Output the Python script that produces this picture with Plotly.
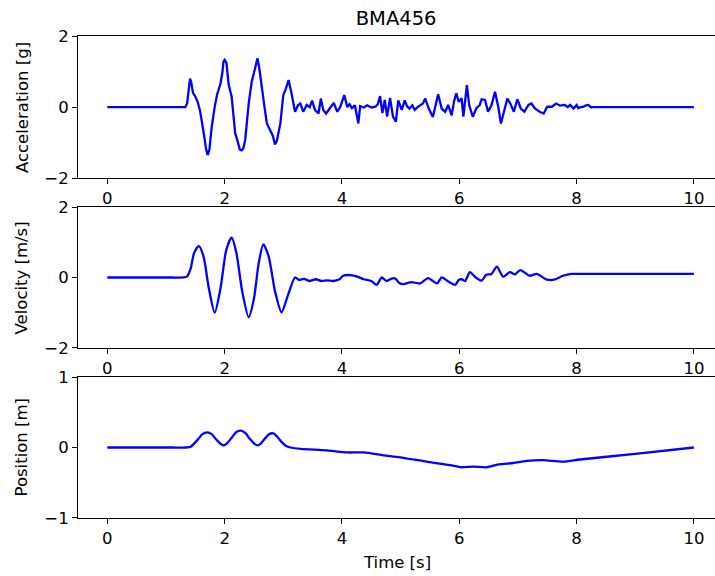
import plotly.graph_objects as go
from plotly.subplots import make_subplots

# acceleration [g]
t_acc = [0, 1.33, 1.36, 1.39, 1.41, 1.43, 1.46, 1.5, 1.54, 1.58, 1.62, 1.65, 1.68, 1.71, 1.74,
         1.78, 1.83, 1.87, 1.93, 1.96, 1.98, 2.0, 2.03, 2.07, 2.12, 2.15, 2.18, 2.22, 2.26,
         2.29, 2.32, 2.35, 2.38, 2.41, 2.46, 2.5, 2.53, 2.56, 2.59, 2.63, 2.68, 2.72, 2.78,
         2.82, 2.86, 2.89, 2.95, 3.0, 3.04, 3.09, 3.14, 3.2, 3.25, 3.29, 3.34, 3.4, 3.45,
         3.49, 3.54, 3.6, 3.64, 3.68, 3.73, 3.78, 3.82, 3.86, 3.92, 3.97, 4.04, 4.09, 4.13,
         4.17, 4.22, 4.28, 4.31, 4.37, 4.43, 4.5, 4.57, 4.61, 4.65, 4.69, 4.73, 4.77, 4.82,
         4.87, 4.92, 4.96, 5.02, 5.07, 5.11, 5.15, 5.2, 5.24, 5.29, 5.33, 5.38, 5.42, 5.48,
         5.55, 5.6, 5.64, 5.7, 5.76, 5.81, 5.87, 5.91, 5.95, 5.99, 6.04, 6.07, 6.13, 6.17,
         6.23, 6.29, 6.35, 6.38, 6.44, 6.49, 6.55, 6.61, 6.67, 6.71, 6.76, 6.82, 6.87, 6.93,
         6.99, 7.05, 7.11, 7.18, 7.23, 7.29, 7.37, 7.44, 7.5, 7.58, 7.65, 7.72, 7.8, 7.85,
         7.89, 7.95, 8.0, 8.03, 8.06, 8.12, 8.16, 8.2, 8.25, 8.28, 10]
acc = [0, 0, 0.1, 0.55, 0.8, 0.7, 0.4, 0.3, 0.15, -0.1, -0.45, -0.8, -1.15, -1.35, -1.2,
       -0.55, 0.0, 0.34, 0.67, 0.95, 1.28, 1.33, 1.25, 0.62, 0.29, -0.2, -0.74, -0.95, -1.2,
       -1.22, -1.15, -0.93, -0.4, 0.1, 0.7, 0.95, 1.2, 1.37, 1.1, 0.67, 0.0, -0.46, -0.65,
       -0.8, -1.05, -0.95, -0.46, 0.34, 0.5, 0.76, 0.39, -0.13, 0.05, 0.1, -0.13, 0.06, 0.0,
       0.18, -0.08, -0.18, 0.24, -0.08, -0.18, -0.05, 0.05, 0.12, -0.13, 0.0, 0.34, 0.0, 0.08,
       -0.03, 0.05, -0.46, 0.03, -0.01, 0.05, -0.01, 0.01, 0.08, 0.31, -0.17, 0.2, -0.27, 0.26,
       -0.27, -0.41, 0.19, -0.08, 0.19, 0.02, -0.04, 0.05, -0.08, 0.0, 0.05, 0.1, 0.24, -0.04,
       -0.28, 0.1, 0.36, -0.04, -0.13, 0.06, -0.23, 0.15, 0.39, 0.15, 0.25, -0.27, 0.62, 0.05,
       -0.27, -0.04, 0.06, 0.22, 0.2, -0.13, 0.06, 0.43, -0.04, -0.46, -0.13, 0.24, 0.1, -0.13,
       0.22, -0.04, -0.13, 0.06, 0.1, -0.04, -0.13, -0.18, 0.01, 0.01, 0.1, 0.04, 0.06, 0.0,
       0.06, -0.04, 0.06, -0.03, -0.01, 0.01, 0.05, 0.06, -0.01, 0.0, 0.0]

# velocity [m/s]
t_vel = [0, 0.6, 1.1, 1.3, 1.36, 1.42, 1.48, 1.56, 1.64, 1.73, 1.83, 1.93, 2.03, 2.12, 2.2,
         2.3, 2.41, 2.5, 2.58, 2.66, 2.75, 2.86, 2.97, 3.08, 3.2, 3.27, 3.35, 3.45, 3.55,
         3.65, 3.75, 3.85, 3.95, 4.02, 4.11, 4.25, 4.37, 4.5, 4.59, 4.68, 4.76, 4.85, 4.91,
         4.97, 5.05, 5.18, 5.33, 5.47, 5.62, 5.7, 5.8, 5.93, 5.99, 6.04, 6.1, 6.18, 6.28,
         6.38, 6.46, 6.55, 6.64, 6.75, 6.86, 6.95, 7.04, 7.2, 7.32, 7.49, 7.62, 7.77, 7.91,
         8.2, 9.0, 10]
vel = [0, 0, 0, 0, 0.03, 0.25, 0.7, 0.89, 0.6, -0.3, -1.0, -0.3, 0.8, 1.13, 0.7,
       -0.4, -1.13, -0.6, 0.4, 0.94, 0.6, -0.4, -0.99, -0.5, 0.0, -0.07, -0.04, -0.1, -0.05,
       -0.1, -0.08, -0.1, -0.06, 0.05, 0.07, 0.03, -0.05, -0.1, -0.21, 0.0, -0.1, -0.03, -0.03,
       -0.15, -0.19, -0.13, -0.17, -0.02, -0.17, 0.0, -0.1, -0.21, -0.07, -0.05, -0.1, 0.15,
       0.0, -0.09, 0.08, 0.1, 0.31, 0.02, 0.15, 0.09, 0.21, 0.05, 0.1, -0.06, -0.06, 0.05,
       0.1, 0.1, 0.1, 0.1]

# position [m]
t_pos = [0, 0.6, 1.1, 1.35, 1.42, 1.55, 1.62, 1.7, 1.78, 1.85, 1.92, 1.98, 2.04, 2.13, 2.2,
         2.28, 2.36, 2.42, 2.5, 2.56, 2.62, 2.7, 2.76, 2.83, 2.9, 2.97, 3.05, 3.12, 3.3, 3.74,
         4.08, 4.37, 4.71, 4.99, 5.44, 5.84, 6.04, 6.24, 6.47, 6.67, 6.92, 7.15, 7.43, 7.77,
         8.06, 9.0, 10]
pos = [0, 0, 0, 0, 0.01, 0.12, 0.19, 0.215, 0.19, 0.12, 0.06, 0.03, 0.06, 0.15, 0.22,
       0.24, 0.2, 0.13, 0.06, 0.03, 0.06, 0.14, 0.19, 0.2, 0.15, 0.08, 0.02, 0.0, -0.02, -0.04,
       -0.07, -0.07, -0.11, -0.14, -0.2, -0.25, -0.28, -0.27, -0.28, -0.24, -0.22, -0.19,
       -0.18, -0.2, -0.17, -0.09, 0.0]

fig = make_subplots(rows=3, cols=1)
fig.add_trace(go.Scatter(x=t_acc, y=acc, mode='lines',
                         line=dict(color='#0000ff', width=2.3)), row=1, col=1)
fig.add_trace(go.Scatter(x=t_vel, y=vel, mode='lines',
                         line=dict(color='#0000ff', width=2.3, shape='spline', smoothing=0.7)), row=2, col=1)
fig.add_trace(go.Scatter(x=t_pos, y=pos, mode='lines',
                         line=dict(color='#0000ff', width=2.3, shape='spline', smoothing=0.7)), row=3, col=1)

font = dict(family='DejaVu Sans', size=16.5, color='black')
axis_style = dict(showgrid=False, zeroline=False, showline=True, linecolor='black', linewidth=1,
                  ticks='outside', ticklen=5, tickcolor='black', tickfont=font)

domains = [[0.705, 1.0], [0.353, 0.645], [0.0, 0.2925]]
yranges = [[-2, 2], [-2, 2], [-1, 1]]
yticks = [[-2, 0, 2], [-2, 0, 2], [-1, 0, 1]]
ylabels = ['Acceleration [g]', 'Velocity [m/s]', 'Position [m]']

for i in range(3):
    xa = 'xaxis' if i == 0 else f'xaxis{i + 1}'
    ya = 'yaxis' if i == 0 else f'yaxis{i + 1}'
    fig.layout[xa].update(range=[-0.5, 10.36], tickvals=[0, 2, 4, 6, 8, 10], mirror=True,
                          **axis_style)
    fig.layout[ya].update(domain=domains[i], range=yranges[i], tickvals=yticks[i], **axis_style)
    fig.add_annotation(text=ylabels[i], xref='paper', yref='paper', x=-0.088,
                       y=sum(domains[i]) / 2, textangle=-90, showarrow=False,
                       xanchor='center', yanchor='middle', font=font)

fig.add_annotation(text='Time [s]', xref='paper', yref='paper', x=0.5, y=-0.093,
                   showarrow=False, xanchor='center', yanchor='middle', font=font)

fig.update_layout(
    width=715, height=576,
    margin=dict(l=78, r=0, t=36, b=58),
    plot_bgcolor='white', paper_bgcolor='white',
    showlegend=False,
    title=dict(text='BMA456', x=0.554, y=0.968, xanchor='center', yanchor='middle',
               font=dict(family='DejaVu Sans', size=19.5, color='black')),
)

fig.write_html("out.html", config={'displayModeBar': False},
               post_script="document.body.style.margin='0px';")
